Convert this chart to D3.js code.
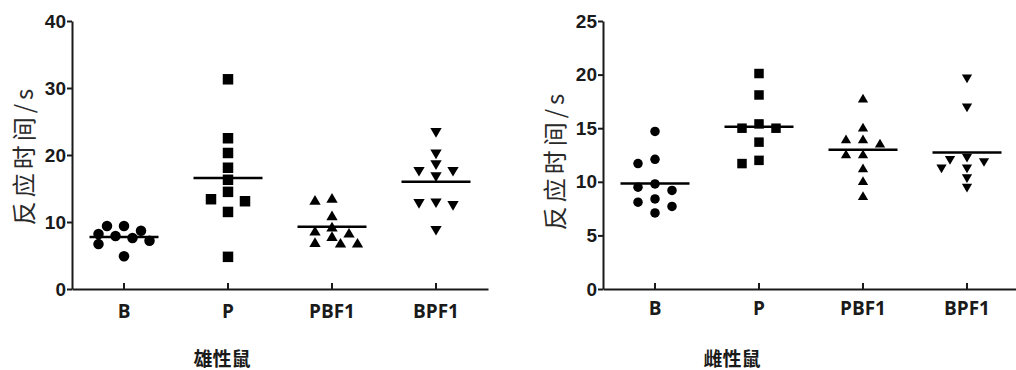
<!DOCTYPE html>
<html>
<head>
<meta charset="utf-8">
<script src="https://cdn.jsdelivr.net/npm/d3@7"></script>
<style>
  body { margin: 0; background: #fff; }
  svg { display: block; }
</style>
</head>
<body>
<svg id="chart" width="1016" height="370"></svg>
<script>
// Strain groups on the x axis
const groups = ["B", "P", "PBF1", "BPF1"];

// 雄性鼠: reaction time (s) of each animal
const maleB    = [9.4, 9.4, 8.7, 8.2, 7.9, 7.6, 7.2, 6.7, 4.9];
const maleP    = [31.3, 22.5, 20.3, 18.1, 16.3, 14.5, 13.4, 13.1, 11.5, 4.8];
const malePBF1 = [13.6, 13.3, 11.0, 9.3, 8.7, 8.4, 7.9, 7.0, 6.9, 6.9];
const maleBPF1 = [23.3, 20.1, 18.5, 17.5, 17.5, 16.7, 12.8, 12.7, 12.4, 8.7];

// 雌性鼠: reaction time (s) of each animal
const femaleB    = [14.7, 12.1, 11.7, 9.8, 9.5, 9.2, 8.4, 8.1, 7.7, 7.1];
const femaleP    = [20.1, 18.1, 15.4, 15.0, 15.0, 13.7, 12.0, 11.7];
const femalePBF1 = [17.8, 15.1, 14.0, 14.0, 13.6, 12.6, 12.6, 11.3, 10.1, 8.7];
const femaleBPF1 = [19.6, 16.9, 12.2, 12.0, 11.8, 11.2, 11.2, 10.3, 9.4];

// Axis ticks and titles
const maleTicks   = [0, 10, 20, 30, 40];
const femaleTicks = [0, 5, 10, 15, 20, 25];
const yTitle = "反应时间/s";
const maleTitle = "雄性鼠";
const femaleTitle = "雌性鼠";

// One marker shape per group
const shapes = ["circle", "square", "triangleUp", "triangleDown"];

const svg = d3.select("#chart");
const ink = "#1a1a1a";

const panels = [
  {
    series: [maleB, maleP, malePBF1, maleBPF1],
    ticks: maleTicks, max: 40, title: maleTitle,
    left: 72, right: 488, top: 21, bottom: 289,
    mk: 10.5, step: 8.5, tickFont: 19, labelPad: 16,
    yTitleX: 22, yTitleY: 155, titleX: 222, titleY: 366
  },
  {
    series: [femaleB, femaleP, femalePBF1, femaleBPF1],
    ticks: femaleTicks, max: 25, title: femaleTitle,
    left: 603, right: 1019, top: 21, bottom: 289,
    mk: 9.5, step: 8.5, tickFont: 19, labelPad: 13,
    yTitleX: 553, yTitleY: 160, titleX: 732, titleY: 366
  }
];

// Spread points sideways where they would overlap, choosing the
// least-overlapping slot close to the column centre.
function swarm(values, y, step, w, h) {
  const order = values.map((v, i) => i).sort((a, b) => values[b] - values[a]);
  const slots = [0, -1, 1, -2, 2, -3, 3];
  const placed = [];
  const out = new Array(values.length);
  order.forEach(i => {
    const py = y(values[i]);
    let best = 0, bestCost = Infinity;
    slots.forEach(k => {
      const dx = k * step;
      let cost = Math.abs(k) * 0.5;
      placed.forEach(p => {
        cost += Math.max(0, w - Math.abs(dx - p.dx)) * Math.max(0, h - Math.abs(py - p.y));
      });
      if (cost < bestCost) { bestCost = cost; best = dx; }
    });
    placed.push({ dx: best, y: py });
    out[i] = best;
  });
  return out;
}

function markerPath(shape, s) {
  const h = s / 2;
  if (shape === "circle") {
    return d3.symbol(d3.symbolCircle, Math.PI * h * h)();
  }
  if (shape === "square") {
    return `M${-h},${-h}H${h}V${h}H${-h}Z`;
  }
  const tw = s * 1.08, th = s * 0.92;
  if (shape === "triangleUp") {
    return `M0,${-th / 2}L${tw / 2},${th / 2}L${-tw / 2},${th / 2}Z`;
  }
  return `M0,${th / 2}L${tw / 2},${-th / 2}L${-tw / 2},${-th / 2}Z`;
}

panels.forEach(p => {
  const g = svg.append("g");
  const x = d3.scaleBand().domain(groups).range([p.left, p.right]).padding(0);
  const y = d3.scaleLinear().domain([0, p.max]).range([p.bottom, p.top]);

  // y axis
  const ya = g.append("g")
    .attr("transform", `translate(${p.left},0)`)
    .call(d3.axisLeft(y).tickValues(p.ticks).tickSize(5).tickSizeOuter(0).tickPadding(1));
  ya.select(".domain").attr("stroke", ink).attr("stroke-width", 2);
  ya.selectAll(".tick line").attr("stroke", ink).attr("stroke-width", 2);
  ya.selectAll(".tick text")
    .attr("fill", ink)
    .style("font-family", "'Liberation Sans', Arial, sans-serif")
    .style("font-weight", "bold")
    .style("font-size", p.tickFont + "px");

  // x axis, ticks pointing into the plot
  const xa = g.append("g")
    .attr("transform", `translate(0,${p.bottom})`)
    .call(d3.axisBottom(x).tickSize(-6).tickSizeOuter(0).tickPadding(p.labelPad));
  xa.select(".domain").attr("stroke", ink).attr("stroke-width", 2);
  xa.selectAll(".tick line").attr("stroke", ink).attr("stroke-width", 2);
  xa.selectAll(".tick text")
    .attr("fill", ink)
    .style("font-family", "'Open Sans', 'Liberation Sans', sans-serif")
    .style("font-weight", "bold")
    .style("font-size", "19px");

  // y-axis title
  g.append("text")
    .attr("transform", `translate(${p.yTitleX},${p.yTitleY}) rotate(-90)`)
    .attr("text-anchor", "middle")
    .attr("dominant-baseline", "central")
    .attr("fill", "#2a2a2a")
    .style("font-family", "'Noto Sans CJK SC', sans-serif")
    .style("font-size", "24px")
    .style("letter-spacing", "4px")
    .text(yTitle);

  // x-axis title
  g.append("text")
    .attr("x", p.titleX).attr("y", p.titleY)
    .attr("text-anchor", "middle")
    .attr("fill", ink)
    .style("font-family", "'Noto Sans CJK SC', sans-serif")
    .style("font-weight", "bold")
    .style("font-size", "19px")
    .text(p.title);

  // points and group means
  p.series.forEach((vals, gi) => {
    const cx = x(groups[gi]) + x.bandwidth() / 2;
    const offs = swarm(vals, y, p.step, p.mk, p.mk);
    g.append("g").selectAll("path")
      .data(vals)
      .join("path")
      .attr("d", markerPath(shapes[gi], p.mk))
      .attr("transform", (v, i) => `translate(${cx + offs[i]},${y(v)})`)
      .attr("fill", "#000");

    const m = d3.mean(vals);
    g.append("line")
      .attr("x1", cx - 34.5).attr("x2", cx + 34.5)
      .attr("y1", y(m)).attr("y2", y(m))
      .attr("stroke", "#000").attr("stroke-width", 2.5);
  });
});
</script>
</body>
</html>
